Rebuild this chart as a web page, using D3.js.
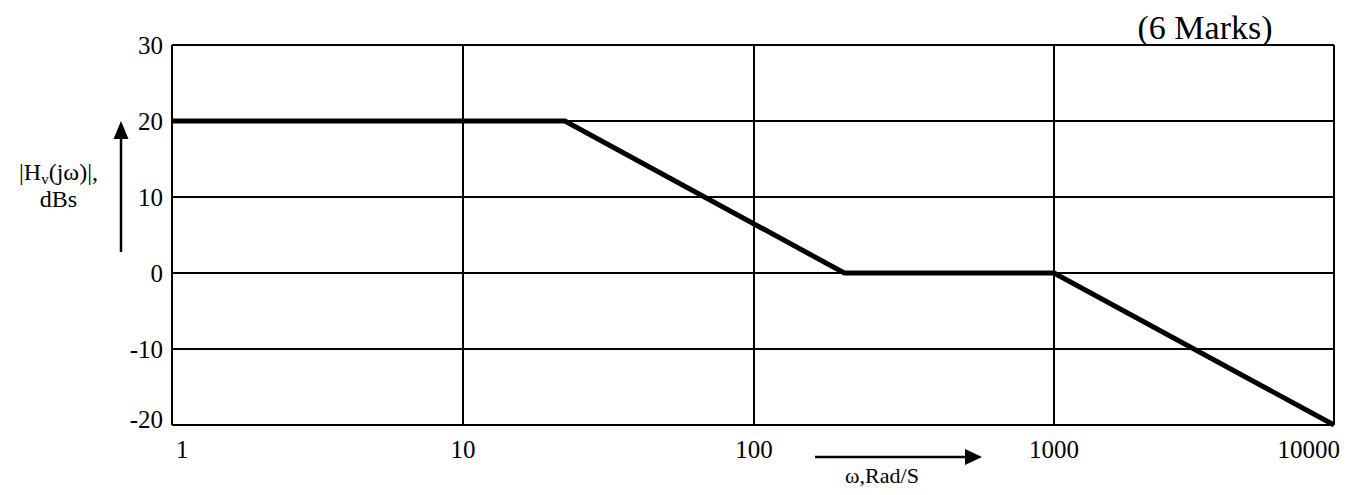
<!DOCTYPE html>
<html>
<head>
<meta charset="utf-8">
<script src="https://cdn.jsdelivr.net/npm/d3@7"></script>
<style>
  html, body { margin: 0; padding: 0; background: #fff; }
  text { font-family: "Times New Roman", "Liberation Serif", serif; fill: #000; }
</style>
</head>
<body>
<svg id="chart" width="1351" height="495"></svg>
<script>
// ---- data ----
const freqTicks = [1, 10, 100, 1000, 10000];
const freqTickLabels = ["1", "10", "100", "1000", "10000"];
const dbTicks = [30, 20, 10, 0, -10, -20];
const dbTickLabels = ["30", "20", "10", "0", "-10", "-20"];
const omega = [1, 22.4, 200, 1000, 10000];
const magnitudeDb = [20, 20, 0, 0, -20];

// ---- layout ----
const W = 1351, H = 495;
const margin = { top: 45, right: 17, bottom: 70, left: 172 };
const svg = d3.select("#chart");

// Hand-drawn decade spacing (piecewise log scale)
const x = d3.scaleLog()
  .domain(freqTicks)
  .range([172, 463, 754, 1054, 1334]);
const y = d3.scaleLinear()
  .domain([-20, 30])
  .range([H - margin.bottom, margin.top]);

// grid lines
const g = svg.append("g");
g.selectAll("line.h").data(dbTicks).enter().append("line")
  .attr("x1", x(1)).attr("x2", x(10000))
  .attr("y1", d => y(d)).attr("y2", d => y(d))
  .attr("stroke", "#000").attr("stroke-width", 2);
g.selectAll("line.v").data(freqTicks).enter().append("line")
  .attr("x1", d => x(d)).attr("x2", d => x(d))
  .attr("y1", y(30)).attr("y2", y(-20))
  .attr("stroke", "#000").attr("stroke-width", 2);

// y tick labels
g.selectAll("text.yl").data(dbTicks).enter().append("text")
  .attr("x", 163)
  .attr("y", d => Math.max(48, Math.min(428, y(d) + 8.5)))
  .attr("text-anchor", "end")
  .attr("font-size", 25)
  .text((d, i) => dbTickLabels[i]);

// x tick labels
g.selectAll("text.xl").data(freqTicks).enter().append("text")
  .attr("x", (d, i) => i === 0 ? x(d) + 4 : (i === freqTicks.length - 1 ? x(d) + 6 : x(d)))
  .attr("y", 458)
  .attr("text-anchor", (d, i) => i === 0 ? "start" : (i === freqTicks.length - 1 ? "end" : "middle"))
  .attr("font-size", 25)
  .text((d, i) => freqTickLabels[i]);

// magnitude line
const pts = omega.map((w, i) => [w, magnitudeDb[i]]);
svg.append("path")
  .datum(pts)
  .attr("fill", "none")
  .attr("stroke", "#000")
  .attr("stroke-width", 5)
  .attr("stroke-linejoin", "miter")
  .attr("d", d3.line().x(d => x(d[0])).y(d => y(d[1])));

// title "(6 Marks)"
svg.append("text")
  .attr("x", 1205).attr("y", 39)
  .attr("text-anchor", "middle")
  .attr("font-size", 34)
  .text("(6 Marks)");

// y-axis title with arrow
const yt = svg.append("text")
  .attr("x", 58.5).attr("y", 180)
  .attr("text-anchor", "middle")
  .attr("font-size", 24);
yt.append("tspan").text("|H");
yt.append("tspan").attr("font-size", 15).attr("dy", 4).text("v");
yt.append("tspan").attr("dy", -4).text("(jω)|,");
svg.append("text")
  .attr("x", 58.5).attr("y", 207)
  .attr("text-anchor", "middle")
  .attr("font-size", 24)
  .text("dBs");

svg.append("line")
  .attr("x1", 121).attr("x2", 121)
  .attr("y1", 252).attr("y2", 136)
  .attr("stroke", "#000").attr("stroke-width", 2.5);
svg.append("path")
  .attr("d", "M121,121 L113.5,139 L128.5,139 Z")
  .attr("fill", "#000");

// x-axis title with arrow
svg.append("line")
  .attr("x1", 815).attr("x2", 968)
  .attr("y1", 457).attr("y2", 457)
  .attr("stroke", "#000").attr("stroke-width", 2.5);
svg.append("path")
  .attr("d", "M982,457 L965,449 L965,465 Z")
  .attr("fill", "#000");
svg.append("text")
  .attr("x", 882).attr("y", 483)
  .attr("text-anchor", "middle")
  .attr("font-size", 22)
  .text("ω,Rad/S");
</script>
</body>
</html>
